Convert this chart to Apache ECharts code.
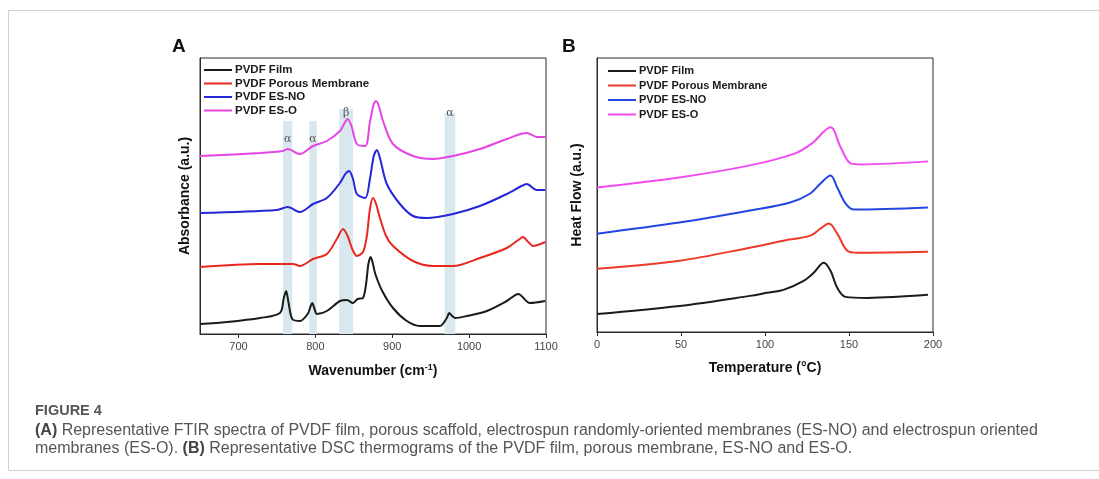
<!DOCTYPE html>
<html>
<head>
<meta charset="utf-8">
<script src="https://cdn.jsdelivr.net/npm/echarts@6/dist/echarts.min.js"></script>
<style>
  html, body { margin: 0; padding: 0; background: #fff; }
  #chart { width: 1099px; height: 479px; }
</style>
</head>
<body>
<div id="chart"></div>
<script>
  // legend names, same for both panels
  const seriesNames = ['PVDF Film', 'PVDF Porous Membrane', 'PVDF ES-NO', 'PVDF ES-O']

  // A: FTIR, [wavenumber, absorbance a.u.]
  const ftirFilm = [[650,0.10],[685,0.12],[728,0.16],[754,0.21],[759,0.36],[762,0.43],[765,0.32],[770,0.15],[780,0.13],
    [790,0.20],[794,0.28],[796,0.31],[799,0.25],[802,0.20],[815,0.23],[832,0.33],[841,0.34],[849,0.31],[855,0.35],
    [862,0.36],[866,0.50],[869,0.70],[872,0.77],[875,0.70],[878,0.60],[887,0.43],[901,0.26],[919,0.13],[936,0.08],
    [962,0.08],[971,0.16],[974,0.21],[978,0.18],[982,0.16],[997,0.18],[1023,0.23],[1049,0.33],[1064,0.40],[1079,0.31],
    [1099,0.33]]
  const ftirPorous = [[650,0.67],[728,0.70],[771,0.70],[780,0.68],[797,0.75],[815,0.80],[828,0.95],[836,1.05],[842,0.98],
    [848,0.85],[854,0.78],[862,0.82],[867,0.98],[871,1.25],[875,1.36],[879,1.30],[884,1.16],[892,0.98],[901,0.88],
    [927,0.73],[953,0.68],[979,0.68],[1014,0.76],[1049,0.86],[1064,0.94],[1070,0.97],[1077,0.92],[1083,0.88],
    [1099,0.92]]
  const ftirESNO = [[650,1.21],[750,1.24],[764,1.27],[780,1.22],[797,1.30],[815,1.36],[832,1.51],[839,1.60],[844,1.63],
    [849,1.55],[854,1.40],[865,1.36],[871,1.55],[876,1.78],[880,1.84],[884,1.76],[893,1.50],[910,1.30],[927,1.18],
    [945,1.16],[979,1.20],[1014,1.28],[1049,1.40],[1068,1.48],[1075,1.50],[1088,1.44],[1099,1.44]]
  const ftirESO = [[650,1.78],[728,1.81],[758,1.83],[764,1.85],[780,1.80],[797,1.88],[815,1.93],[832,2.03],[838,2.11],
    [842,2.15],[847,2.08],[854,1.90],[865,1.88],[871,2.12],[876,2.30],[879,2.33],[883,2.27],[888,2.13],[901,1.90],
    [927,1.78],[953,1.75],[979,1.78],[1014,1.85],[1049,1.95],[1075,2.01],[1088,1.97],[1099,1.97]]
  // shaded bands: [from, to, label]
  const bands = [[758, 770, 'α'], [792, 802, 'α'], [831, 849, 'β'], [968, 982, 'α']]
  const ftirTicks = [700, 800, 900, 1000, 1100]

  // B: DSC, [temperature, heat flow a.u.]
  const dscFilm = [[0,0.18],[49,0.26],[91,0.36],[101,0.39],[111,0.42],[123,0.51],[129,0.59],[135,0.69],[139,0.61],
    [143,0.44],[148,0.35],[161,0.34],[197,0.37]]
  const dscPorous = [[0,0.63],[49,0.71],[91,0.84],[111,0.91],[127,0.96],[133,1.03],[138,1.08],[143,0.98],[149,0.81],
    [155,0.79],[197,0.80]]
  const dscESNO = [[0,0.98],[49,1.09],[91,1.21],[115,1.29],[127,1.38],[133,1.48],[139,1.56],[143,1.44],[148,1.28],
    [153,1.22],[197,1.24]]
  const dscESO = [[0,1.44],[49,1.54],[91,1.66],[118,1.78],[128,1.88],[139,2.04],[145,1.84],[151,1.68],[157,1.67],
    [197,1.70]]

  let colorsA = ['#1b1b1b', '#e8271f', '#2426d8', '#e545e3']
  let colorsB = ['#1b1b1b', '#ec3b27', '#2446e2', '#f24cf0']
  let axisColor = '#2b2b2b'
  let font = 'Liberation Sans, Arial, sans-serif'

  let chart = echarts.init(document.getElementById('chart'))

  function legendData(colors) {
    return seriesNames.map((n, i) => ({ name: n, itemStyle: { color: colors[i] } }))
  }

  function lineSeries(name, data, color, idx, smooth) {
    return {
      name: name,
      type: 'line',
      xAxisIndex: idx,
      yAxisIndex: idx,
      data: data,
      smooth: smooth,
      symbol: 'none',
      z: 3,
      lineStyle: { color: color, width: 2 },
      itemStyle: { color: color }
    }
  }

  let bandAreas = bands.map((b, i) => {
    // first two α labels sit a bit lower in the band
    let top = i < 2 ? 2.13 : (i == 2 ? 2.25 : 2.21)
    let dy = i < 2 ? 8 : (i == 2 ? -6 : -10)
    return [
      { xAxis: b[0], yAxis: top, name: b[2], label: { offset: [0, dy] } },
      { xAxis: b[1], yAxis: 0 }
    ]
  })

  let xAxisCommon = {
    type: 'value',
    axisLine: { show: true, lineStyle: { color: axisColor, width: 1 } },
    axisTick: { show: true, length: 4, lineStyle: { color: axisColor } },
    axisLabel: { color: '#444', fontSize: 11, fontFamily: font, margin: 7, formatter: v => String(v) },
    splitLine: { show: false },
    nameLocation: 'middle',
    nameGap: 29,
    nameTextStyle: { color: '#111', fontSize: 14, fontWeight: 'bold', fontFamily: font }
  }
  let yAxisCommon = {
    type: 'value',
    axisLine: { show: true, lineStyle: { color: axisColor } },
    axisTick: { show: false },
    axisLabel: { show: false },
    splitLine: { show: false },
    nameLocation: 'middle',
    nameTextStyle: { color: '#111', fontSize: 14, fontWeight: 'bold', fontFamily: font }
  }
  let legendCommon = {
    orient: 'vertical',
    icon: 'rect',
    itemWidth: 28,
    itemHeight: 2,
    padding: 0,
    selectedMode: false,
    textStyle: { color: '#1a1a1a', fontWeight: 'bold', fontFamily: font, padding: [0, 0, 0, -2] }
  }

  const options = {
    backgroundColor: '#fff',
    animation: false,
    title: [
      { text: 'A', left: 172, top: 37, padding: 0, textStyle: { fontSize: 19, fontWeight: 'bold', color: '#111', fontFamily: font } },
      { text: 'B', left: 562, top: 37, padding: 0, textStyle: { fontSize: 19, fontWeight: 'bold', color: '#111', fontFamily: font } }
    ],
    legend: [
      Object.assign({}, legendCommon, {
        left: 204, top: 64, itemGap: 1.5, data: legendData(colorsA),
        textStyle: Object.assign({}, legendCommon.textStyle, { fontSize: 11.5, lineHeight: 11.5 })
      }),
      Object.assign({}, legendCommon, {
        left: 608, top: 65, itemGap: 2.5, data: legendData(colorsB),
        textStyle: Object.assign({}, legendCommon.textStyle, { fontSize: 11, lineHeight: 12 })
      })
    ],
    grid: [
      { left: 200, top: 58, width: 346, height: 276, show: true, borderColor: axisColor, borderWidth: 1, containLabel: false },
      { left: 597, top: 58, width: 336, height: 274, show: true, borderColor: axisColor, borderWidth: 1, containLabel: false }
    ],
    xAxis: [
      Object.assign({}, xAxisCommon, {
        gridIndex: 0, min: 650, max: 1100,
        name: '{a|Wavenumber (cm}{s|-1}{a|)}',
        nameTextStyle: Object.assign({}, xAxisCommon.nameTextStyle, {
          rich: {
            a: { fontSize: 14, fontWeight: 'bold', color: '#111', fontFamily: font },
            s: { fontSize: 9, fontWeight: 'bold', color: '#111', fontFamily: font, verticalAlign: 'top', padding: [0, 0, 7, 0] }
          }
        }),
        axisTick: Object.assign({}, xAxisCommon.axisTick, { customValues: ftirTicks }),
        axisLabel: Object.assign({}, xAxisCommon.axisLabel, { customValues: ftirTicks })
      }),
      Object.assign({}, xAxisCommon, {
        gridIndex: 1, min: 0, max: 200, interval: 50,
        name: 'Temperature (°C)'
      })
    ],
    yAxis: [
      Object.assign({}, yAxisCommon, { gridIndex: 0, min: 0, max: 2.76, name: 'Absorbance (a.u.)', nameGap: 8 }),
      Object.assign({}, yAxisCommon, { gridIndex: 1, min: 0, max: 2.73, name: 'Heat Flow (a.u.)', nameGap: 13 })
    ],
    series: [
      {
        name: 'bands',
        type: 'line',
        xAxisIndex: 0,
        yAxisIndex: 0,
        data: [],
        z: 1,
        markArea: {
          silent: true,
          itemStyle: { color: '#d8e8ee' },
          label: {
            show: true,
            position: 'insideTop',
            color: '#555',
            fontSize: 11,
            fontFamily: 'DejaVu Serif, serif'
          },
          data: bandAreas
        }
      },
      lineSeries(seriesNames[0], ftirFilm, colorsA[0], 0, 0.3),
      lineSeries(seriesNames[1], ftirPorous, colorsA[1], 0, 0.3),
      lineSeries(seriesNames[2], ftirESNO, colorsA[2], 0, 0.3),
      lineSeries(seriesNames[3], ftirESO, colorsA[3], 0, 0.3),
      lineSeries(seriesNames[0], dscFilm, colorsB[0], 1, 0.35),
      lineSeries(seriesNames[1], dscPorous, colorsB[1], 1, 0.35),
      lineSeries(seriesNames[2], dscESNO, colorsB[2], 1, 0.35),
      lineSeries(seriesNames[3], dscESO, colorsB[3], 1, 0.35)
    ],
    graphic: [
      // page frame
      { type: 'rect', shape: { x: 8.5, y: 10.5, width: 1100, height: 460 }, style: { fill: 'none', stroke: '#d0d0d0', lineWidth: 1 }, z: 0 },
      { type: 'text', left: 35, top: 403, style: { text: 'FIGURE 4', fill: '#555', font: '600 14.5px ' + font } },
      {
        type: 'text', left: 35, top: 422,
        style: {
          text: '{b|(A)} Representative FTIR spectra of PVDF film, porous scaffold, electrospun randomly-oriented membranes (ES-NO) and electrospun oriented\nmembranes (ES-O). {b|(B)} Representative DSC thermograms of the PVDF film, porous membrane, ES-NO and ES-O.',
          fill: '#555',
          font: '16px ' + font,
          lineHeight: 18,
          rich: {
            b: { fontWeight: 'bold', fontSize: 16, fill: '#444', fontFamily: font, lineHeight: 18 }
          }
        }
      }
    ]
  }
  chart.setOption(options)
</script>
</body>
</html>
